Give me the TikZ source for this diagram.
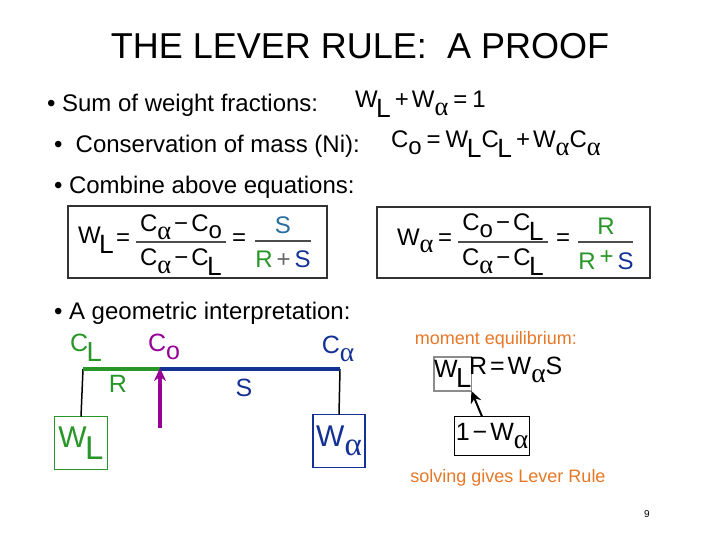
\documentclass[tikz,border=0pt]{standalone}
\usepackage{fontspec}
\usepackage{graphicx}
\setmainfont{Liberation Sans}
\newfontfamily\alf{Liberation Serif}
\usetikzlibrary{arrows.meta}
\definecolor{lgreen}{RGB}{40,150,40}
\definecolor{dblue}{RGB}{20,50,150}
\definecolor{teal2}{RGB}{40,110,160}
\definecolor{purp}{RGB}{150,0,150}
\definecolor{orng}{RGB}{230,120,40}
\newcommand{\Ls}{\hspace{-1.5pt}\raisebox{-0.4em}{\scalebox{1.1}{L}}}
\newcommand{\os}{\raisebox{-0.3em}{o}}
\newcommand{\as}{\raisebox{-0.32em}{\scalebox{1.1}{\alf α}}}
\newcommand{\mi}{\hspace{3pt}−\hspace{3pt}}
\newcommand{\pl}{\hspace{4pt}+\hspace{3pt}}
\newcommand{\eqs}{\hspace{5pt}=\hspace{5pt}}
\newcommand{\eqn}{\hspace{3pt}=\hspace{3pt}}
\newcommand{\fs}[1]{\fontsize{#1}{#1}\selectfont}
\begin{document}
\begin{tikzpicture}[x=1pt,y=-1pt,
  every node/.style={inner sep=0pt,outer sep=0pt},
  bul/.style={anchor=west,font=\fs{24}},
  eq/.style={anchor=west,font=\fs{24}},
  frule/.style={draw=black!70,line width=1.3},
  framebox/.style={draw=black!80,line width=1.5},
  lbl/.style={font=\fs{25}}]
\useasboundingbox[fill=white] (0,0) rectangle (720,540);
\node (title) at (360,46) {\fs{36}THE LEVER RULE:\ \ A PROOF};
% bullets
\node[bul] (b1) at (47,105) {• Sum of weight fractions:};
\node[bul] (b2) at (54,146) {•\ \ Conservation of mass (Ni):};
\node[bul] (b3) at (54,187) {•\ Combine above equations:};
\node[bul] (b4) at (54,313) {•\ A geometric interpretation:};
% equations
\node[eq] (e1) at (355,104) {W\Ls\pl W\as\eqs 1};
\node[eq] (e2) at (391,144) {C\os\eqs W\Ls C\Ls\pl W\as C\as};
% box 1
\draw[framebox] (68,206) rectangle (327,278);
\node[eq] (wl1) at (78,240) {W\Ls};
\node[eq] (eqa) at (116,240) {=};
\node (n1) at (181,227) {\fs{24}C\as\mi C\os};
\node (d1) at (181,262) {\fs{24}C\as\mi C\Ls};
\draw[frule] (136,242) -- (226,242);
\node[eq] (eqb) at (232,240) {=};
\node (n2) at (283,225) {\fs{24}\color{teal2}S};
\node (d2) at (283,259) {\fs{24}\textcolor{lgreen}{R}\,\textcolor{black!60}{+}\,\textcolor{dblue}{S}};
\draw[frule] (255,241) -- (311,241);
% box 2
\draw[framebox] (377,207) rectangle (650,278);
\node[eq] (wa2) at (397,241) {W\as};
\node[eq] (eqc) at (438,240) {=};
\node (n3) at (503,227) {\fs{24}C\os\mi C\Ls};
\node (d3) at (503,262) {\fs{24}C\as\mi C\Ls};
\draw[frule] (458,242) -- (548,242);
\node[eq] (eqd) at (556,240) {=};
\node (n4) at (606,226) {\fs{24}\color{lgreen}R};
\node (d4) at (606,260) {\fs{24}\textcolor{lgreen}{R}\,\raisebox{0.2em}{\textcolor{lgreen}{+}}\,\textcolor{dblue}{S}};
\draw[frule] (578,242) -- (633,242);
% lever
\coordinate (cl) at (83,369);
\coordinate (co) at (160,369);
\coordinate (ca) at (340,369);
\node[draw=lgreen,line width=1.5,minimum width=53,minimum height=53,font=\fs{30},text=lgreen] (wl) at (81,443) {W\Ls};
\node[draw=dblue,line width=1.5,minimum width=52,minimum height=53,font=\fs{30},text=dblue] (wa) at (339,441) {W\as};
\draw[black,line width=1.5] (cl) -- (wl.north);
\draw[black,line width=1.5] (ca) -- (wa.north);
\draw[lgreen,line width=4] (cl) -- (co);
\draw[dblue,line width=4] (co) -- (ca);
\coordinate (ab) at (160,428);
\draw[purp,line width=3.5,-{Stealth[length=13,width=12]}] (ab) -- ([yshift=1]co);
\node[lbl,text=lgreen] (lcl) at (86,348) {C\Ls};
\node[lbl,text=purp] (lco) at (164,347) {C\os};
\node[lbl,text=dblue] (lca) at (338,349) {C\as};
\node[lbl,text=lgreen] (lr) at (118,384) {R};
\node[lbl,text=dblue] (ls) at (244,388) {S};
% moment equilibrium
\node[font=\fs{18},text=orng] (me) at (496,340) {moment equilibrium:};
\node[draw=black!45,line width=1.5,minimum width=34,minimum height=34,font=\fs{25},anchor=west] (wlr) at (434,374) {W\Ls};
\node[font=\fs{25},anchor=west] (rest) at (469,370) {R\eqn W\as S};
\node[draw=black,line width=1.3,minimum width=75,minimum height=39,font=\fs{25}] (one) at (492,436) {1\mi W\as};
\draw[black,line width=2,-{Stealth[length=12,width=11]}] ([xshift=-10]one.north) -- (wlr.south east);
\node[font=\fs{18},text=orng] (sg) at (508,478) {solving gives Lever Rule};
\node[font=\fs{10}] (pg) at (647,514) {9};
\end{tikzpicture}
\end{document}
